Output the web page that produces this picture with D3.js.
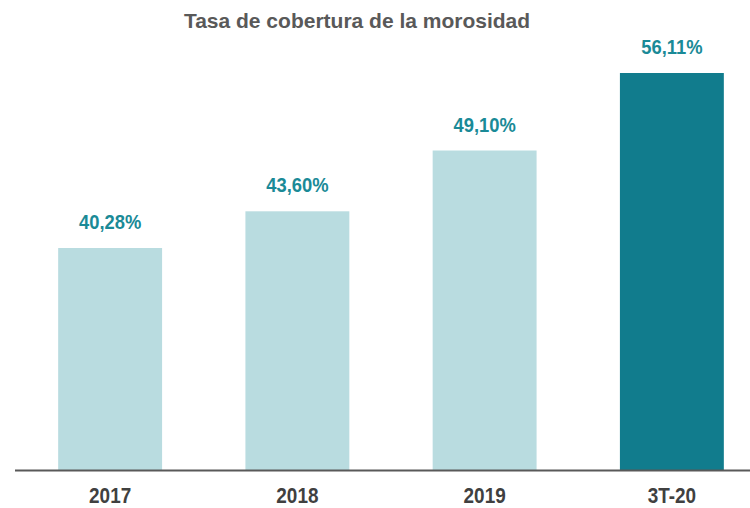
<!DOCTYPE html>
<html>
<head>
    <meta charset="utf-8">
    <style>
        body { margin: 0; background: #fff; }
        text { font-family: "Liberation Sans", Arial, Helvetica, sans-serif; }
    </style>
</head>
<body>
    <svg id="chart"></svg>
    <script src="https://cdn.jsdelivr.net/npm/d3@7"></script>
    <script>
        // data
        let categories = ["2017", "2018", "2019", "3T-20"]
        let values = [40.28, 43.60, 49.10, 56.11]
        let valueLabels = ["40,28%", "43,60%", "49,10%", "56,11%"]
        let title = "Tasa de cobertura de la morosidad"

        let width = 750,
            height = 508,
            baseline = 470

        let svg = d3.select("#chart")
            .attr("width", width)
            .attr("height", height)

        let x = d3.scaleBand()
            .domain(categories)
            .range([16.5, 765.5])
            .paddingInner(0.445)
            .paddingOuter(0.2225)

        let y = d3.scaleLinear()
            .domain([20.2, 60])
            .range([baseline, 30])

        svg.append("text")
            .attr("x", 357)
            .attr("y", 28)
            .attr("text-anchor", "middle")
            .attr("font-size", 21)
            .attr("font-weight", "bold")
            .attr("fill", "#595959")
            .text(title)

        svg.selectAll(".bar")
            .data(values)
            .enter().append("rect")
            .attr("class", "bar")
            .attr("x", (d, i) => x(categories[i]))
            .attr("width", x.bandwidth())
            .attr("y", d => y(d))
            .attr("height", d => baseline - y(d))
            .attr("fill", (d, i) => i == values.length - 1 ? "#117c8d" : "#b9dce0")

        // value labels, slightly condensed
        svg.selectAll(".val")
            .data(values)
            .enter().append("text")
            .attr("class", "val")
            .attr("transform", (d, i) => `translate(${x(categories[i]) + x.bandwidth() / 2},${y(d) - 19}) scale(0.92,1)`)
            .attr("text-anchor", "middle")
            .attr("font-size", 20)
            .attr("font-weight", "bold")
            .attr("fill", "#1a8a97")
            .text((d, i) => valueLabels[i])

        // axis line
        svg.append("line")
            .attr("x1", 15)
            .attr("x2", width)
            .attr("y1", baseline + 0.5)
            .attr("y2", baseline + 0.5)
            .attr("stroke", "#595959")
            .attr("stroke-width", 2)

        // category labels, narrow bold
        svg.selectAll(".cat")
            .data(categories)
            .enter().append("text")
            .attr("class", "cat")
            .attr("transform", d => `translate(${x(d) + x.bandwidth() / 2},503) scale(0.86,1)`)
            .attr("text-anchor", "middle")
            .attr("font-size", 22)
            .attr("font-weight", "bold")
            .attr("fill", "#404040")
            .text(d => d)
    </script>
</body>
</html>
